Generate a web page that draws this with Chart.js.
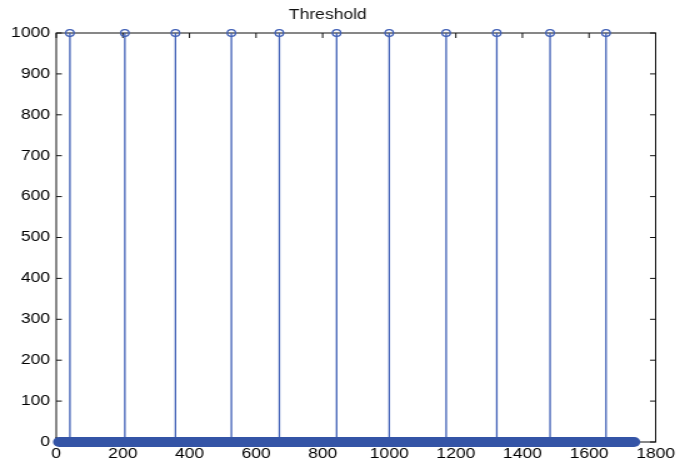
<!DOCTYPE html>
<html>
<head>
<meta charset="utf-8">
<script src="https://cdn.jsdelivr.net/npm/chart.js@4/dist/chart.umd.min.js"></script>
<style>
  html, body { margin: 0; padding: 0; background: #fff; }
  /* 元画像は横に引き伸ばされているので、キャンバスごと横に伸ばす */
  #wrap { width: 552px; height: 463px; transform: scaleX(1.25); transform-origin: 0 0; }
</style>
</head>
<body>
<div id="wrap"><canvas id="chart"></canvas></div>
<script>
const $ = (id) => document.getElementById(id);

// しきい値を超えたサンプル位置と値
const STEM_X = [41, 206, 358, 526, 670, 842, 1000, 1171, 1323, 1483, 1651];
const STEM_Y = [1000, 1000, 1000, 1000, 1000, 1000, 1000, 1000, 1000, 1000, 1000];
// それ以外のサンプルは 0（先頭と末尾のサンプル位置）
const ZERO_RANGE = [9, 1735];

const X_TICKS = [0, 200, 400, 600, 800, 1000, 1200, 1400, 1600, 1800];
const Y_TICKS = [0, 100, 200, 300, 400, 500, 600, 700, 800, 900, 1000];

const STEM_COLOR = '#3f5fb6';
const BAND_COLOR = '#3454a6';
const FONT = { family: '"Liberation Sans", Arial, sans-serif', size: 14, weight: 'normal' };

// 縦線: 0 → 値 → 切れ目
const stemLines = [];
STEM_X.forEach((x, i) => {
  stemLines.push({ x, y: 0 }, { x, y: STEM_Y[i] }, { x, y: NaN });
});

// MATLAB 風の枠と内向きの目盛り
const boxPlugin = {
  id: 'box',
  beforeDatasetsDraw(chart) {
    const { ctx, chartArea: a, scales } = chart;
    ctx.save();
    ctx.strokeStyle = '#111';
    ctx.lineWidth = 1;
    ctx.strokeRect(a.left, a.top, a.right - a.left, a.bottom - a.top);
    ctx.beginPath();
    for (const v of X_TICKS) {
      const px = scales.x.getPixelForValue(v);
      ctx.moveTo(px, a.bottom); ctx.lineTo(px, a.bottom - 5);
      ctx.moveTo(px, a.top); ctx.lineTo(px, a.top + 5);
    }
    for (const v of Y_TICKS) {
      const py = scales.y.getPixelForValue(v);
      ctx.moveTo(a.left, py); ctx.lineTo(a.left + 4.5, py);
      ctx.moveTo(a.right, py); ctx.lineTo(a.right - 4.5, py);
    }
    ctx.stroke();
    ctx.restore();
  },
};

new Chart($('chart').getContext('2d'), {
  type: 'scatter',
  data: {
    datasets: [
      {
        label: 'stems',
        type: 'line',
        data: stemLines,
        borderColor: STEM_COLOR,
        borderWidth: 1.3,
        pointRadius: 0,
        spanGaps: false,
        order: 3,
      },
      {
        label: 'zero',
        type: 'line',
        data: ZERO_RANGE.map((x) => ({ x, y: 0 })),
        borderColor: BAND_COLOR,
        borderWidth: 10,
        borderCapStyle: 'round',
        pointRadius: 0,
        clip: false,
        order: 2,
      },
      {
        label: 'markers',
        data: STEM_X.map((x, i) => ({ x, y: STEM_Y[i] })),
        borderColor: STEM_COLOR,
        backgroundColor: 'rgba(0,0,0,0)',
        borderWidth: 1.3,
        pointRadius: 3.3,
        clip: false,
        order: 1,
      },
    ],
  },
  options: {
    responsive: true,
    maintainAspectRatio: false,
    animation: false,
    events: [],
    layout: { padding: { left: 0, right: 27.5, top: 0, bottom: 0 } },
    plugins: {
      legend: { display: false },
      tooltip: { enabled: false },
      title: {
        display: true,
        text: 'Threshold',
        color: '#111',
        font: FONT,
        padding: { top: 7, bottom: 9.2 },
      },
    },
    scales: {
      x: {
        type: 'linear',
        min: 0,
        max: 1800,
        afterBuildTicks: (s) => { s.ticks = X_TICKS.map((value) => ({ value })); },
        afterFit: (s) => { s.height = 21; },
        grid: { display: false, drawTicks: false },
        border: { display: false },
        ticks: { color: '#000', font: FONT, padding: 4, maxRotation: 0, autoSkip: false, callback: (v) => String(v) },
      },
      y: {
        type: 'linear',
        min: 0,
        max: 1000,
        afterBuildTicks: (s) => { s.ticks = Y_TICKS.map((value) => ({ value })); },
        afterFit: (s) => { s.width = 45; },
        grid: { display: false, drawTicks: false },
        border: { display: false },
        ticks: { color: '#000', font: FONT, padding: 5, autoSkip: false, callback: (v) => String(v) },
      },
    },
  },
  plugins: [boxPlugin],
});
</script>
</body>
</html>
